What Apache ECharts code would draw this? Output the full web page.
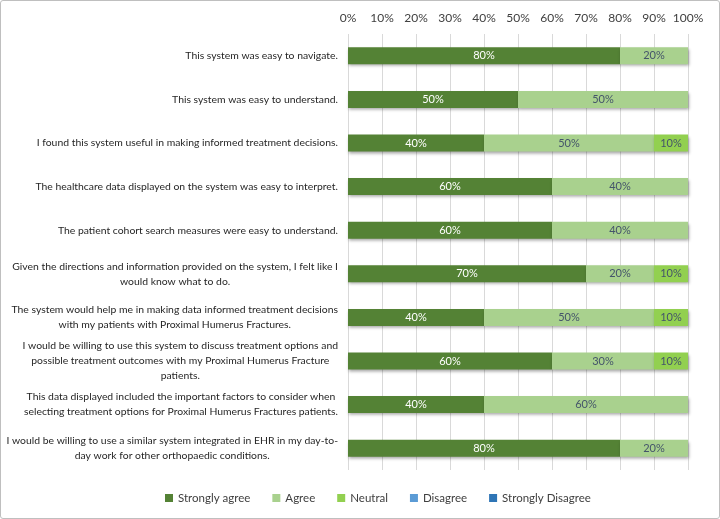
<!DOCTYPE html>
<html><head><meta charset="utf-8">
<script src="https://cdn.jsdelivr.net/npm/echarts@6/dist/echarts.min.js"></script>
<style>
html,body{margin:0;padding:0;background:#fff;}
#c{width:720px;height:519px;box-sizing:border-box;border:1px solid #bfbfbf;border-radius:3px;}
</style></head>
<body><div id="c"></div>
<script>
const categories = [
  "This system was easy to navigate.",
  "This system was easy to understand.",
  "I found this system useful in making informed treatment decisions.",
  "The healthcare data displayed on the system was easy to interpret.",
  "The patient cohort search measures were easy to understand.",
  "Given the directions and information provided on the system, I felt like I\nwould know what to do.",
  "The system would help me in making data informed treatment decisions\nwith my patients with Proximal Humerus Fractures.",
  "I would be willing to use this system to discuss treatment options and\npossible treatment outcomes with my Proximal Humerus Fracture\npatients.",
  "This data displayed included the important factors to consider when\nselecting treatment options for Proximal Humerus Fractures patients.",
  "I would be willing to use a similar system integrated in EHR in my day-to-\nday work for other orthopaedic conditions."
];
const seriesNames = ["Strongly agree","Agree","Neutral","Disagree","Strongly Disagree"];
const stronglyAgree = [80,50,40,60,60,70,40,60,40,80];
const agree = [20,50,50,40,40,20,50,30,60,20];
const neutral = [0,0,10,0,0,10,10,10,0,0];
const disagree = [0,0,0,0,0,0,0,0,0,0];
const stronglyDisagree = [0,0,0,0,0,0,0,0,0,0];
const tickValues = [0,10,20,30,40,50,60,70,80,90,100];

const colors = ['#548235','#A9D18E','#92D050','#5B9BD5','#2E75B6'];
const labelColors = ['#ffffff','#44546A','#44546A','#44546A','#ffffff'];
const allData = [stronglyAgree, agree, neutral, disagree, stronglyDisagree];
const FONT = 'Lato, "Noto Sans", sans-serif';
const CAT_FS = 10.4;

// rich styles: each (right-aligned) line gets right padding so lines are centred within the block
const ctx = document.createElement('canvas').getContext('2d');
ctx.font = CAT_FS + 'px ' + FONT;
const rich = {};
categories.forEach((c,i)=>{
  const lines = c.split('\n');
  const ws = lines.map(s=>ctx.measureText(s).width);
  const maxW = Math.max(...ws);
  lines.forEach((s,j)=>{
    rich['r'+i+'_'+j] = {padding:[0,(maxW-ws[j])/2,0,0], fontSize:CAT_FS, color:'#262626', lineHeight:15, fontFamily:FONT};
  });
});

const chart = echarts.init(document.getElementById('c'));
chart.setOption({
  animation:false,
  textStyle:{fontFamily:FONT},
  grid:{left:347,right:31,top:33,bottom:48,containLabel:false,outerBoundsMode:'none'},
  legend:{
    bottom:14,left:164,padding:0,itemWidth:8,itemHeight:8,itemGap:22,
    icon:'rect',
    textStyle:{fontSize:11.5,color:'#404040',fontFamily:FONT},
    data:seriesNames
  },
  xAxis:{
    type:'value',position:'top',min:0,max:100,interval:10,
    axisLine:{show:false},axisTick:{show:false},
    axisLabel:{formatter:'{value}%',fontSize:12,color:'#404040',margin:10},
    splitLine:{lineStyle:{color:'#d9d9d9'}}
  },
  yAxis:{
    type:'category',inverse:true,data:categories,
    axisLine:{show:false},axisTick:{show:false},
    axisLabel:{
      fontSize:CAT_FS,color:'#262626',margin:10,align:'right',lineHeight:15,
      formatter:function(v){const i=categories.indexOf(v);return v.split('\n').map((s,j)=>'{r'+i+'_'+j+'|'+s+'}').join('\n');},
      rich:rich
    }
  },
  series: seriesNames.map((n,i)=>({
    name:n,type:'bar',stack:'total',barWidth:17,
    data:allData[i],
    itemStyle:{color:colors[i],shadowBlur:3,shadowOffsetY:2,shadowOffsetX:1,shadowColor:'rgba(0,0,0,0.35)'},
    label:{show:true,position:'inside',fontSize:11,color:labelColors[i],
      formatter:p=>p.value?p.value+'%':''}
  }))
});
</script></body></html>
